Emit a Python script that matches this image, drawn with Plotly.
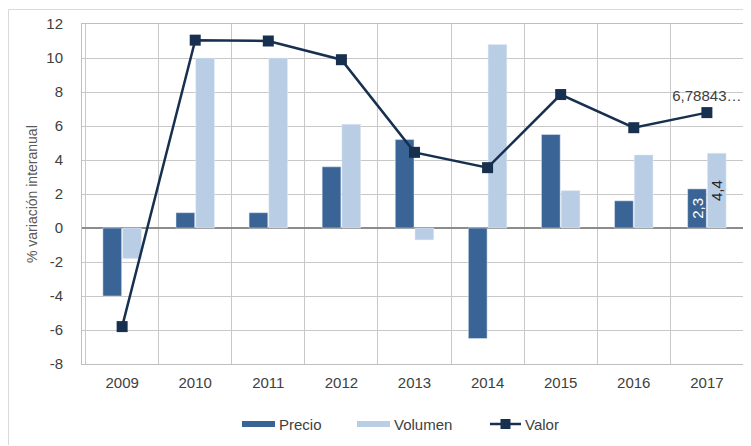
import plotly.graph_objects as go

years = ["2009", "2010", "2011", "2012", "2013", "2014", "2015", "2016", "2017"]
precio = [-4.0, 0.9, 0.9, 3.6, 5.2, -6.5, 5.5, 1.6, 2.3]
volumen = [-1.8, 10.0, 10.0, 6.1, -0.7, 10.8, 2.2, 4.3, 4.4]
valor = [-5.8, 11.05, 11.0, 9.9, 4.45, 3.55, 7.85, 5.9, 6.78843]

precio_text = [""] * 8 + ["2,3"]
volumen_text = [""] * 8 + ["4,4"]
valor_text = [""] * 8 + ["6,78843…"]

ytick_vals = [-8, -6, -4, -2, 0, 2, 4, 6, 8, 10, 12]
ytick_text = ["-8", "-6", "-4", "-2", "0", "2", "4", "6", "8", "10", "12"]

font_family = "Liberation Sans, Arial, sans-serif"
C_PRECIO = "#3A6496"
C_VOL = "#B9CDE5"
C_VALOR = "#17304F"

OFF = 8  # page body offset
W, H = 743, 438
L, R, T, B = 74, 4, 16, 82
PW, PH = W - L - R, H - T - B


def px_x(px):
    return (px - OFF - L) / PW


def px_y(py):
    return (H - B - (py - OFF)) / PH


fig = go.Figure()
fig.add_trace(go.Bar(
    x=years, y=precio, name="Precio", marker_color=C_PRECIO,
    text=precio_text, textposition="inside", textangle=-90,
    insidetextanchor="middle", constraintext="none",
    textfont=dict(color="white", size=15, family=font_family),
))
fig.add_trace(go.Bar(
    x=years, y=volumen, name="Volumen", marker_color=C_VOL,
    text=volumen_text, textposition="inside", textangle=-90,
    insidetextanchor="middle", constraintext="none",
    textfont=dict(color="#262626", size=15, family=font_family),
))
fig.add_trace(go.Scatter(
    x=years, y=valor, name="Valor", mode="lines+markers+text",
    line=dict(color=C_VALOR, width=2.5),
    marker=dict(symbol="square", size=11, color=C_VALOR),
    text=valor_text, textposition="top center",
    textfont=dict(color="#404040", size=15, family=font_family),
))

ly = 424
border = dict(color="#D9D9D9", width=1)
shapes = [
    dict(type="line", xref="paper", yref="paper",
         x0=px_x(8.5), x1=px_x(760), y0=px_y(9.5), y1=px_y(9.5), line=border),
    dict(type="line", xref="paper", yref="paper",
         x0=px_x(8.5), x1=px_x(8.5), y0=px_y(9.5), y1=px_y(445), line=border),
    dict(type="rect", xref="paper", yref="paper",
         x0=px_x(242), x1=px_x(275), y0=px_y(427), y1=px_y(421),
         fillcolor=C_PRECIO, line=dict(width=0)),
    dict(type="rect", xref="paper", yref="paper",
         x0=px_x(357), x1=px_x(390), y0=px_y(427), y1=px_y(421),
         fillcolor=C_VOL, line=dict(width=0)),
    dict(type="line", xref="paper", yref="paper",
         x0=px_x(490), x1=px_x(521), y0=px_y(ly), y1=px_y(ly),
         line=dict(color=C_VALOR, width=2.5)),
    dict(type="rect", xref="paper", yref="paper",
         x0=px_x(500.5), x1=px_x(510.5), y0=px_y(429), y1=px_y(419),
         fillcolor=C_VALOR, line=dict(width=0)),
]
annotations = [
    dict(text="Precio", xref="paper", yref="paper", x=px_x(277), y=px_y(ly),
         xanchor="left", yanchor="middle", showarrow=False,
         font=dict(size=15, color="#404040", family=font_family)),
    dict(text="Volumen", xref="paper", yref="paper", x=px_x(392), y=px_y(ly),
         xanchor="left", yanchor="middle", showarrow=False,
         font=dict(size=15, color="#404040", family=font_family)),
    dict(text="Valor", xref="paper", yref="paper", x=px_x(523), y=px_y(ly),
         xanchor="left", yanchor="middle", showarrow=False,
         font=dict(size=15, color="#404040", family=font_family)),
    dict(text="% variación interanual", xref="paper", yref="paper",
         x=px_x(32), y=0.5, textangle=-90, xanchor="center", yanchor="middle",
         showarrow=False, font=dict(size=14, color="#595959", family=font_family)),
]

fig.update_layout(
    width=W, height=H,
    margin=dict(l=L, r=R, t=T, b=B, autoexpand=False),
    paper_bgcolor="white", plot_bgcolor="white",
    barmode="group", bargap=0.46, bargroupgap=0.05,
    font=dict(family=font_family, color="#404040", size=14),
    showlegend=False,
    xaxis=dict(
        type="category", tickson="boundaries", showgrid=True,
        gridcolor="#C8C8C8", gridwidth=1, automargin=False,
        showline=True, linecolor="#BFBFBF", mirror=True,
        ticks="", ticklabelstandoff=5, tickfont=dict(size=15, color="#404040"),
    ),
    yaxis=dict(
        range=[-8, 12], tickmode="array", tickvals=ytick_vals, ticktext=ytick_text,
        showgrid=True, gridcolor="#C8C8C8", gridwidth=1, automargin=False,
        zeroline=True, zerolinecolor="#8C8C8C", zerolinewidth=1.5,
        showline=True, linecolor="#BFBFBF", mirror=True,
        ticks="", ticklabelstandoff=15, tickfont=dict(size=15, color="#404040"),
    ),
    shapes=shapes,
    annotations=annotations,
)

fig.write_html("out.html")
